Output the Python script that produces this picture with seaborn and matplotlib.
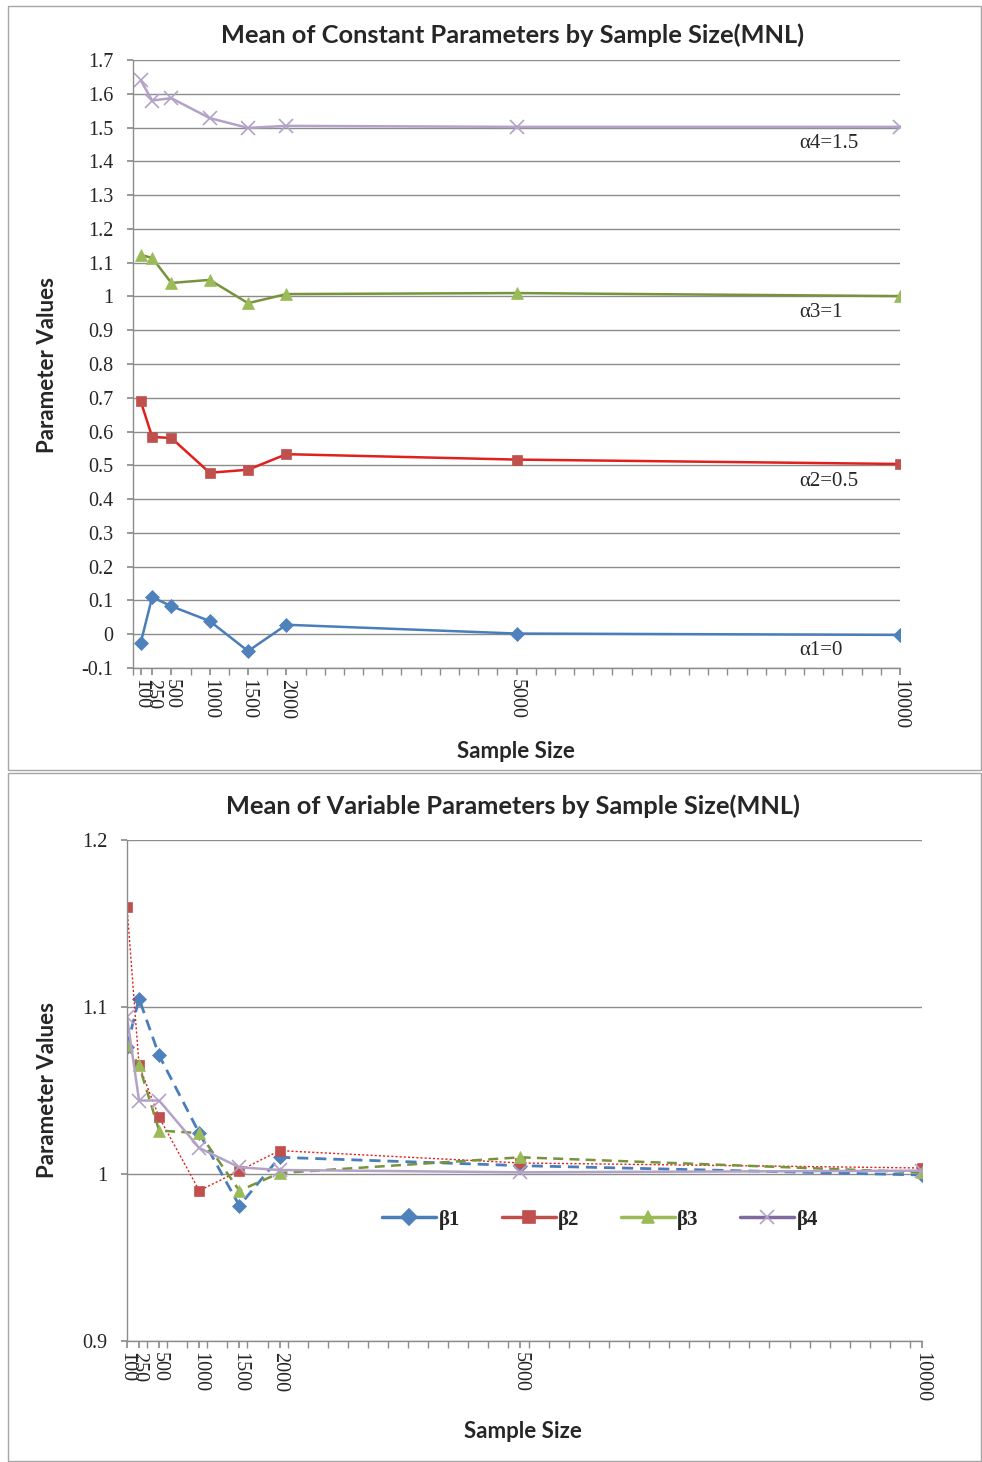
import matplotlib
matplotlib.use("Agg")
import matplotlib.pyplot as plt
import seaborn as sns
import pandas as pd
import numpy as np
from matplotlib.patches import Rectangle
from matplotlib.lines import Line2D

sample_sizes = [100, 250, 500, 1000, 1500, 2000, 5000, 10000]
tick_labels = ["100", "250", "500", "1000", "1500", "2000", "5000", "10000"]

alpha1 = [-0.026, 0.110, 0.083, 0.039, -0.050, 0.028, 0.002, -0.002]
alpha2 = [0.690, 0.584, 0.581, 0.478, 0.487, 0.533, 0.517, 0.504]
alpha3 = [1.123, 1.114, 1.040, 1.049, 0.980, 1.007, 1.010, 1.001]
alpha4 = [1.640, 1.580, 1.587, 1.528, 1.499, 1.505, 1.502, 1.502]
alpha_labels = ["α1=0", "α2=0.5", "α3=1", "α4=1.5"]

beta1 = [1.076, 1.105, 1.071, 1.0245, 0.981, 1.010, 1.005, 0.9994]
beta2 = [1.160, 1.065, 1.034, 0.990, 1.002, 1.014, 1.0066, 1.0036]
beta3 = [1.077, 1.065, 1.026, 1.0245, 0.990, 1.0006, 1.010, 1.001]
beta4 = [1.094, 1.044, 1.044, 1.0156, 1.004, 1.0024, 1.001, 1.002]
beta_labels = ["β1", "β2", "β3", "β4"]

sns.set_theme(style="white")
plt.rcParams['font.family'] = ['Liberation Serif', 'DejaVu Sans']

W, H = 982, 1462
fig = plt.figure(figsize=(W / 100, H / 100), dpi=100)

def fx(px):
    return px / W

def fy(py):
    return 1 - py / H

# panel borders
for (x0, y0, x1, y1) in [(8, 6, 981, 770), (8, 773, 981, 1461)]:
    fig.patches.append(Rectangle((fx(x0), fy(y1)), fx(x1 - x0), fy(y0) - fy(y1),
                                 transform=fig.transFigure, fill=False,
                                 edgecolor="#A6A6A6", linewidth=1.0))

title_font = dict(family=['Lato', 'DejaVu Sans'], weight='bold', size=18.3)
label_font = dict(family=['Lato', 'DejaVu Sans'], weight='bold', size=16)

def style_axes(ax, xmin, minor_start):
    for s in ["top", "right"]:
        ax.spines[s].set_visible(False)
    for s in ["left", "bottom"]:
        ax.spines[s].set_color("#8C8C8C")
        ax.spines[s].set_linewidth(1.0)
    ax.grid(axis="y", color="#8C8C8C", linewidth=1.0)
    ax.grid(axis="x", visible=False)
    ax.set_xlim(xmin, 10000)
    ax.set_xticks(sample_sizes)
    ax.set_xticklabels(tick_labels, rotation=-90, fontsize=14.5, family=['Liberation Serif'])
    ax.set_xticks(np.arange(minor_start, 10001, 250), minor=True)
    ax.tick_params(axis="x", which="both", bottom=True, length=5, color="#8C8C8C", pad=3)
    ax.tick_params(axis="y", left=True, length=4, color="#8C8C8C", labelsize=14.5, pad=10)
    ax.set_xlabel("")
    ax.set_ylabel("")

# ---------- top chart ----------
ax1 = fig.add_axes([fx(133), fy(668), fx(900 - 133), fy(60) - fy(668)])
top_series = [
    (alpha1, "#4A7EBB", "D", 7, "#4F81BD", "-", 1.8),
    (alpha2, "#E0201B", "s", 7, "#C0504D", "-", 1.8),
    (alpha3, "#77933C", "^", 8, "#9BBB59", "-", 1.8),
    (alpha4, "#B3A2C7", "x", 10, "#B3A2C7", "-", 1.8),
]
for vals, lc, mk, ms, mc, ls, lw in top_series:
    df = pd.DataFrame({"n": sample_sizes, "v": vals})
    sns.lineplot(data=df, x="n", y="v", ax=ax1, color=lc, linestyle=ls, linewidth=lw,
                 marker=mk, markersize=ms, markerfacecolor=mc, markeredgecolor=mc,
                 markeredgewidth=1.2 if mk == "x" else 0.5)
style_axes(ax1, 0, 0)
ax1.set_ylim(-0.1, 1.7)
yt = np.round(np.arange(-0.1, 1.71, 0.1), 1)
ax1.set_yticks(yt)
ax1.set_yticklabels([f"{v:g}" for v in yt])

for lab, v in zip(alpha_labels, [0, 0.5, 1, 1.5]):
    ax1.text(8690, v - 0.047, lab, fontsize=15, family=['Liberation Serif'],
             ha="left", va="center")

fig.text(fx(513), fy(35), "Mean of Constant Parameters by Sample Size(MNL)",
         ha="center", va="center", **title_font)
fig.text(fx(516), fy(752), "Sample Size", ha="center", va="center", **label_font)
fig.text(fx(48), fy(365), "Parameter Values", ha="center", va="center",
         rotation=90, **label_font)

# ---------- bottom chart ----------
ax2 = fig.add_axes([fx(127), fy(1341), fx(922 - 127), fy(840) - fy(1341)])
bot_series = [
    (beta1, "#4A7EBB", "D", 7, "#4F81BD", (0, (4, 2.5)), 2.0),
    (beta2, "#E0201B", "s", 7, "#C0504D", (0, (1.5, 1.5)), 1.0),
    (beta3, "#77933C", "^", 8, "#9BBB59", (0, (4, 2.5)), 1.8),
    (beta4, "#B3A2C7", "x", 10, "#B3A2C7", "-", 1.8),
]
for vals, lc, mk, ms, mc, ls, lw in bot_series:
    df = pd.DataFrame({"n": sample_sizes, "v": vals})
    sns.lineplot(data=df, x="n", y="v", ax=ax2, color=lc, linestyle=ls, linewidth=lw,
                 marker=mk, markersize=ms, markerfacecolor=mc, markeredgecolor=mc,
                 markeredgewidth=1.2 if mk == "x" else 0.5)
style_axes(ax2, 100, 100)
ax2.set_ylim(0.9, 1.2)
ax2.set_yticks([0.9, 1.0, 1.1, 1.2])
ax2.set_yticklabels(["0.9", "1", "1.1", "1.2"])

leg_specs = [
    ("#4A7EBB", "D", "#4F81BD"),
    ("#C0504D", "s", "#C0504D"),
    ("#9BBB59", "^", "#9BBB59"),
    ("#7F6A9F", "x", "#B3A2C7"),
]
handles = [Line2D([0], [0], color=c, lw=2.5, marker=m, markersize=8 if m != "x" else 10,
                  markerfacecolor=mc, markeredgecolor=mc, markeredgewidth=1.2)
           for c, m, mc in leg_specs]
ax2.legend(handles, beta_labels, loc="center", bbox_to_anchor=(0.595, 0.242),
           ncol=4, frameon=False, columnspacing=2.0, handlelength=2.6,
           handletextpad=0.1, prop=dict(family=['Liberation Serif'], weight='bold', size=15))

fig.text(fx(513), fy(806), "Mean of Variable Parameters by Sample Size(MNL)",
         ha="center", va="center", **title_font)
fig.text(fx(523), fy(1431), "Sample Size", ha="center", va="center", **label_font)
fig.text(fx(48), fy(1090), "Parameter Values", ha="center", va="center",
         rotation=90, **label_font)

fig.savefig("out.png", dpi=100)
